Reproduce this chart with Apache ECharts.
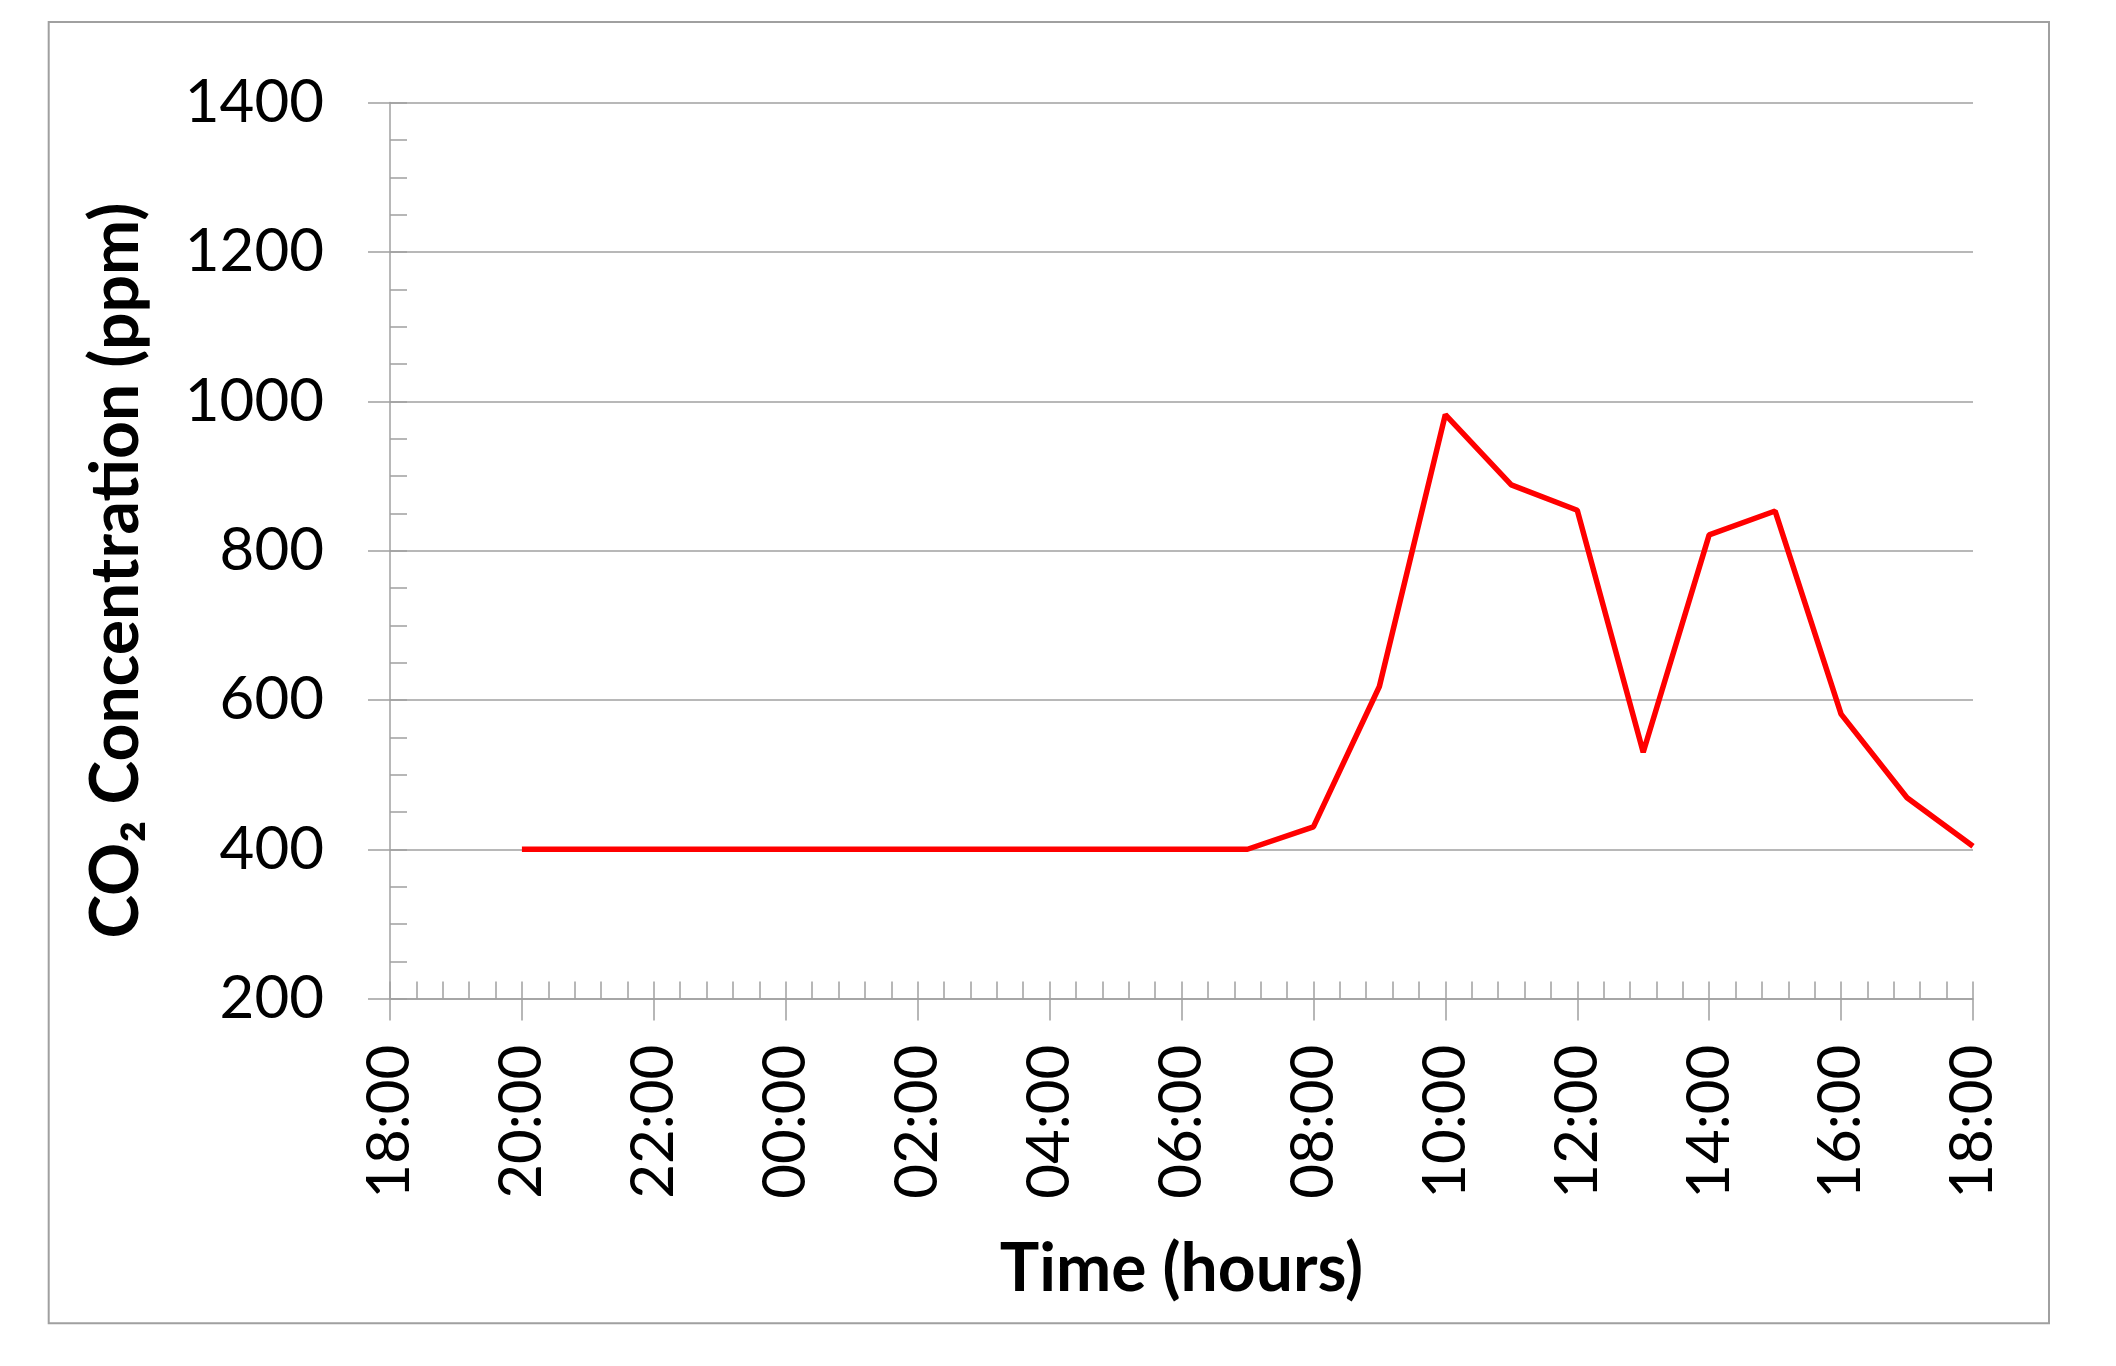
<!DOCTYPE html>
<html>
<head>
<meta charset="utf-8">
<title>CO2 Concentration</title>
<script src="https://cdn.jsdelivr.net/npm/echarts@6/dist/echarts.min.js"></script>
<style>
  html, body { margin: 0; padding: 0; background: #fff; }
  #chart { width: 2116px; height: 1366px; }
</style>
</head>
<body>
<div id="chart"></div>
<script>
  // hours elapsed since 18:00 on day one, one reading per hour
  var elapsedHours = [2, 3, 4, 5, 6, 7, 8, 9, 10, 11, 12, 13, 14, 15, 16, 17, 18, 19, 20, 21, 22, 23, 24]
  var timeLabels = ['20:00', '21:00', '22:00', '23:00', '00:00', '01:00', '02:00', '03:00', '04:00', '05:00', '06:00', '07:00',
    '08:00', '09:00', '10:00', '11:00', '12:00', '13:00', '14:00', '15:00', '16:00', '17:00', '18:00']
  var co2 = [400, 400, 400, 400, 400, 400, 400, 400, 400, 400, 400, 400,
    430, 618, 982, 888, 854, 530, 821, 853, 581, 469, 404]
  var xTickLabels = ['18:00', '20:00', '22:00', '00:00', '02:00', '04:00', '06:00', '08:00', '10:00', '12:00', '14:00', '16:00', '18:00']
  var yTicks = [200, 400, 600, 800, 1000, 1200, 1400]

  var gray = '#a0a0a0'
  var font = 'Lato'

  var points = []
  for (var i = 0; i < co2.length; i++) {
    points.push([elapsedHours[i], co2[i]])
  }

  var myChart = echarts.init(document.getElementById('chart'))
  var option = {
    animation: false,
    backgroundColor: '#fff',
    textStyle: { fontFamily: font },
    grid: {
      left: 390,
      right: 143,
      top: 102.6,
      bottom: 367.4,
      outerBoundsMode: 'none'
    },
    graphic: [{
      type: 'rect',
      shape: { x: 48.7, y: 22, width: 2000.3, height: 1301.3 },
      style: { fill: 'none', stroke: gray, lineWidth: 2 },
      silent: true
    }],
    xAxis: [{
      type: 'value',
      position: 'bottom',
      min: 0,
      max: 24,
      interval: 2,
      name: 'Time (hours)',
      nameLocation: 'middle',
      nameGap: 238,
      nameTextStyle: { fontFamily: font, fontWeight: 'bold', fontSize: 66, color: '#000' },
      axisLine: { show: true, onZero: false, lineStyle: { color: gray, width: 1.5 } },
      axisTick: { show: true, inside: false, length: 22, lineStyle: { color: gray, width: 1.5 } },
      axisLabel: {
        rotate: 90,
        margin: 46,
        fontFamily: font,
        fontSize: 60,
        color: '#000',
        formatter: function (v) { return xTickLabels[Math.round(v / 2)] }
      },
      splitLine: { show: false }
    }, {
      type: 'value',
      position: 'bottom',
      min: 0,
      max: 24,
      interval: 0.4,
      axisLine: { show: false, onZero: false },
      axisTick: { show: true, inside: true, length: 17, lineStyle: { color: gray, width: 1.5 } },
      axisLabel: { show: false },
      splitLine: { show: false }
    }],
    yAxis: [{
      type: 'value',
      position: 'left',
      min: yTicks[0],
      max: yTicks[yTicks.length - 1],
      interval: 200,
      name: 'CO\u2082 Concentration (ppm)',
      nameLocation: 'middle',
      nameGap: 240,
      nameRotate: 90,
      nameTextStyle: { fontFamily: font, fontWeight: 'bold', fontSize: 66, color: '#000', padding: [0, 40, 0, 0] },
      axisLine: { show: true, onZero: false, lineStyle: { color: gray, width: 1.5 } },
      axisTick: { show: true, inside: false, length: 22, lineStyle: { color: gray, width: 1.5 } },
      axisLabel: {
        margin: 66,
        fontFamily: font,
        fontSize: 60,
        color: '#000',
        formatter: function (v) { return String(v) }
      },
      splitLine: { show: true, lineStyle: { color: gray, width: 1.5 } }
    }, {
      type: 'value',
      position: 'left',
      min: yTicks[0],
      max: yTicks[yTicks.length - 1],
      interval: 50,
      axisLine: { show: false, onZero: false },
      axisTick: { show: true, inside: true, length: 17, lineStyle: { color: gray, width: 1.5 } },
      axisLabel: { show: false },
      splitLine: { show: false }
    }],
    series: [{
      name: 'CO2',
      type: 'line',
      xAxisIndex: 0,
      yAxisIndex: 0,
      data: points,
      symbol: 'none',
      lineStyle: { color: '#ff0000', width: 5.5 },
      itemStyle: { color: '#ff0000' }
    }]
  }
  myChart.setOption(option)
</script>
</body>
</html>
